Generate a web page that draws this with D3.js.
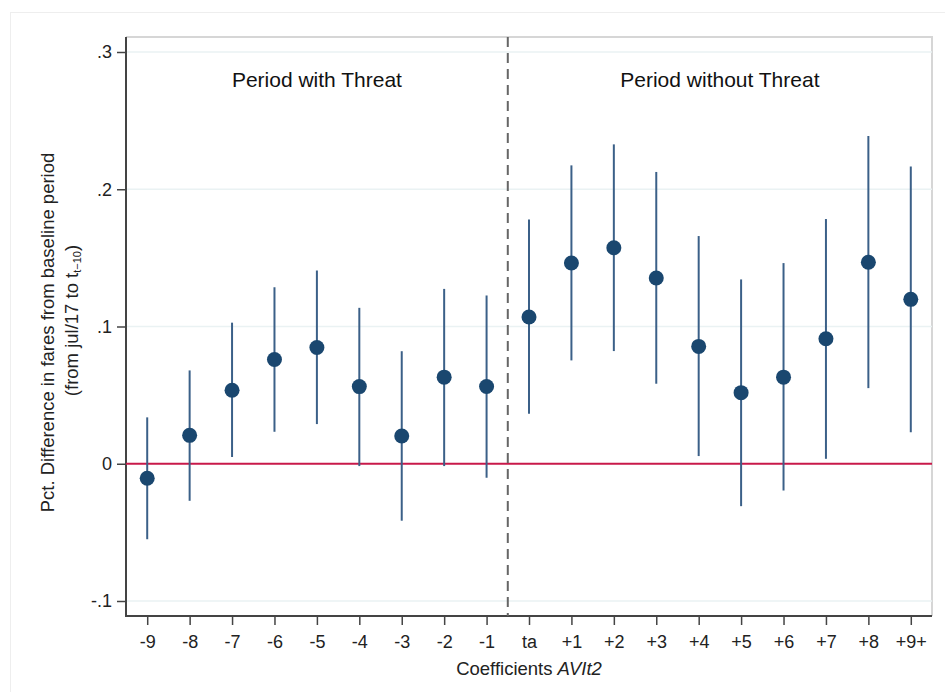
<!DOCTYPE html>
<html>
<head>
<meta charset="utf-8">
<script src="https://cdn.jsdelivr.net/npm/d3@7"></script>
<style>
  html, body { margin: 0; padding: 0; background: #ffffff; }
  svg { display: block; font-family: "Liberation Sans", Arial, sans-serif; }
</style>
</head>
<body>
<svg id="chart" width="945" height="692"></svg>
<script>
// Event-study coefficients with 95% confidence intervals
const categories = ["-9","-8","-7","-6","-5","-4","-3","-2","-1","ta","+1","+2","+3","+4","+5","+6","+7","+8","+9+"];
const estimates  = [-0.0106, 0.0207, 0.0536, 0.0760, 0.0847, 0.0562, 0.0202, 0.0631, 0.0563,
                     0.1069, 0.1463, 0.1574, 0.1353, 0.0855, 0.0518, 0.0631, 0.0911, 0.1468, 0.1198];
const ciLow      = [-0.0550,-0.0270, 0.0049, 0.0233, 0.0289,-0.0017,-0.0415,-0.0017,-0.0102,
                     0.0364, 0.0753, 0.0821, 0.0583, 0.0056,-0.0309,-0.0195, 0.0036, 0.0551, 0.0230];
const ciHigh     = [ 0.0338, 0.0680, 0.1028, 0.1286, 0.1408, 0.1136, 0.0820, 0.1274, 0.1226,
                     0.1780, 0.2174, 0.2327, 0.2126, 0.1659, 0.1343, 0.1462, 0.1783, 0.2388, 0.2166];
const yTicks      = [-0.1, 0, 0.1, 0.2, 0.3];
const yTickLabels = ["-.1", "0", ".1", ".2", ".3"];
const periodLabels = ["Period with Threat", "Period without Threat"];

const svg = d3.select("#chart");
const FONT = "Liberation Sans, Arial, sans-serif";

// Plot region
const plot = { left: 126, right: 932, top: 37, bottom: 616 };

const x = d3.scalePoint()
  .domain(categories)
  .range([plot.left, plot.right])
  .padding(0.5);

const y = d3.scaleLinear()
  .domain([-0.1, 0.3])
  .range([601, 52]);

// Outer graph frame
svg.append("rect")
  .attr("x", 10.5).attr("y", 12.5)
  .attr("width", 960).attr("height", 700)
  .attr("fill", "none")
  .attr("stroke", "#eeeeee")
  .attr("stroke-width", 1);

// Light frame on top and right of the plot region
svg.append("path")
  .attr("d", `M${plot.left},${plot.top}H${plot.right}V${plot.bottom}`)
  .attr("fill", "none")
  .attr("stroke", "#d6d6d6")
  .attr("stroke-width", 2);

// Horizontal gridlines
svg.append("g")
  .selectAll("line")
  .data(yTicks.filter(d => d !== 0))
  .join("line")
  .attr("x1", plot.left).attr("x2", plot.right)
  .attr("y1", d => y(d)).attr("y2", d => y(d))
  .attr("stroke", "#eaf2f3")
  .attr("stroke-width", 1.5);

// Y axis
const yAxis = d3.axisLeft(y)
  .tickValues(yTicks)
  .tickFormat((d, i) => yTickLabels[i])
  .tickSize(9)
  .tickPadding(5);

const gy = svg.append("g")
  .attr("transform", `translate(${plot.left},0)`)
  .call(yAxis);
gy.select(".domain").remove();
gy.selectAll(".tick line").attr("stroke", "#444").attr("stroke-width", 1.5);
gy.selectAll(".tick text")
  .attr("font-size", 18)
  .attr("fill", "#222")
  .attr("font-family", FONT);
svg.append("line")
  .attr("x1", plot.left).attr("x2", plot.left)
  .attr("y1", plot.top).attr("y2", plot.bottom + 1)
  .attr("stroke", "#444").attr("stroke-width", 2);

// X axis
const xAxis = d3.axisBottom(x)
  .tickSize(9)
  .tickPadding(10);
const gx = svg.append("g")
  .attr("transform", `translate(0,${plot.bottom})`)
  .call(xAxis);
gx.select(".domain").remove();
gx.selectAll(".tick line").attr("stroke", "#444").attr("stroke-width", 1.5);
gx.selectAll(".tick text")
  .attr("font-size", 18)
  .attr("fill", "#222")
  .attr("font-family", FONT);
svg.append("line")
  .attr("x1", plot.left - 1).attr("x2", plot.right)
  .attr("y1", plot.bottom).attr("y2", plot.bottom)
  .attr("stroke", "#444").attr("stroke-width", 2);

// Zero reference line
svg.append("line")
  .attr("x1", plot.left).attr("x2", plot.right)
  .attr("y1", y(0)).attr("y2", y(0))
  .attr("stroke", "#c8194a")
  .attr("stroke-width", 2);

// Vertical divider between the two periods
const split = (x("-1") + x("ta")) / 2;
svg.append("line")
  .attr("x1", split).attr("x2", split)
  .attr("y1", plot.top).attr("y2", plot.bottom)
  .attr("stroke", "#666")
  .attr("stroke-width", 2)
  .attr("stroke-dasharray", "10,6");

// Confidence intervals
svg.append("g")
  .selectAll("line")
  .data(categories)
  .join("line")
  .attr("x1", d => x(d)).attr("x2", d => x(d))
  .attr("y1", (d, i) => y(ciLow[i]))
  .attr("y2", (d, i) => y(ciHigh[i]))
  .attr("stroke", "#3b6088")
  .attr("stroke-width", 2);

// Point estimates
svg.append("g")
  .selectAll("circle")
  .data(categories)
  .join("circle")
  .attr("cx", d => x(d))
  .attr("cy", (d, i) => y(estimates[i]))
  .attr("r", 7.5)
  .attr("fill", "#1a476f");

// Period labels
svg.append("text")
  .attr("x", (plot.left + split) / 2)
  .attr("y", 87)
  .attr("text-anchor", "middle")
  .attr("font-size", 21)
  .attr("fill", "#111")
  .text(periodLabels[0]);
svg.append("text")
  .attr("x", (split + plot.right) / 2)
  .attr("y", 87)
  .attr("text-anchor", "middle")
  .attr("font-size", 21)
  .attr("fill", "#111")
  .text(periodLabels[1]);

// X axis title
const xt = svg.append("text")
  .attr("x", (plot.left + plot.right) / 2)
  .attr("y", 675)
  .attr("text-anchor", "middle")
  .attr("font-size", 18.5)
  .attr("fill", "#222");
xt.append("tspan").text("Coefficients ");
xt.append("tspan").attr("font-style", "italic").text("AVIt2");

// Y axis title (two lines)
const yc = (plot.top + plot.bottom) / 2;
svg.append("text")
  .attr("transform", `translate(54,${yc + 6}) rotate(-90)`)
  .attr("text-anchor", "middle")
  .attr("font-size", 18.5)
  .attr("fill", "#222")
  .text("Pct. Difference in fares from baseline period");
const y2 = svg.append("text")
  .attr("transform", `translate(78,${yc - 6}) rotate(-90)`)
  .attr("text-anchor", "middle")
  .attr("font-size", 18.5)
  .attr("fill", "#222");
y2.append("tspan").text("(from jul/17 to t");
y2.append("tspan").attr("font-size", 11).attr("dy", 3).text("t\u221210");
y2.append("tspan").attr("dy", -3).text(")");
</script>
</body>
</html>
